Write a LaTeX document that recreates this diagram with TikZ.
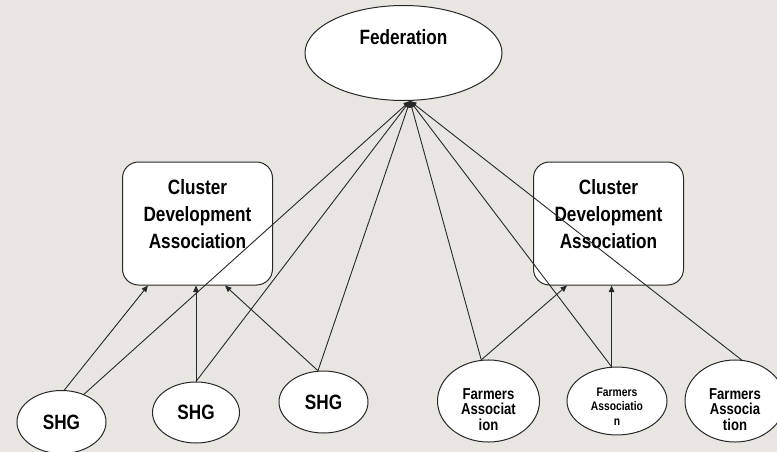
\documentclass[tikz,border=0pt]{standalone}
\usepackage{fontspec}
\newfontfamily\diagfont[FakeStretch=0.83]{Liberation Sans}
\usetikzlibrary{shapes.geometric, arrows.meta}
\definecolor{bgpanel}{RGB}{233,230,226}
\definecolor{edgegray}{RGB}{40,40,40}
\tikzset{
  fed_node/.style = {
    ellipse,
    draw=edgegray,
    fill=white,
    line width=1pt,
    minimum width=197pt,
    minimum height=95pt,
    inner sep=0pt,
    font=\diagfont\bfseries\fontsize{20.7}{24}\selectfont,
    text height=14pt,
    text depth=30pt
  },
  cluster/.style = {
    rectangle,
    rounded corners=16pt,
    draw=edgegray,
    fill=white,
    line width=1pt,
    minimum width=150pt,
    minimum height=123pt,
    inner sep=0pt,
    align=center,
    font=\diagfont\bfseries\fontsize{20.7}{27}\selectfont,
    text height=49pt,
    text depth=0pt
  },
  shg/.style = {
    ellipse,
    draw=edgegray,
    fill=white,
    line width=1pt,
    minimum width=89pt,
    minimum height=63pt,
    inner sep=0pt,
    font=\diagfont\bfseries\fontsize{20.7}{24}\selectfont
  },
  farmers/.style = {
    shg,
    minimum width=102pt,
    minimum height=62pt,
    align=center,
    font=\diagfont\bfseries\fontsize{15.8}{15.5}\selectfont,
    text height=58pt,
    text depth=0pt
  },
  farmers_small/.style = {
    farmers,
    font=\diagfont\bfseries\fontsize{12.4}{14.5}\selectfont,
    text height=48pt
  },
  arrow/.style = {
    -{Triangle[length=6.5pt,width=5.5pt]},
    line width=0.9pt,
    draw=edgegray
  }
}

\begin{document}
\begin{tikzpicture}[x=1pt, y=-1pt]

\fill[bgpanel] (0,0) rectangle (777,452);
\useasboundingbox (0,0) rectangle (777,452);

% ===== Topo =====
\node (fed) [fed_node] at (403.5,53) {Federation};
\coordinate (hub) at ([xshift=6.5pt]fed.south);

% ===== Nivel do meio =====
\node (cda1) [cluster] at (197.5,223.5) {Cluster\\Development\\Association};
\node (cda2) [cluster] at (608.5,223.5) {Cluster\\Development\\Association};

% ===== Base =====
\node (shg1) [shg] at (61.5,422) {SHG};
\node (shg2) [shg, minimum width=87pt, minimum height=61pt] at (196,412.5) {SHG};
\node (shg3) [shg, minimum height=62pt] at (323.5,402) {SHG};
\node (fa1) [farmers] at (488.5,401) {Farmers\\Associat\\ion};
\node (fa2) [farmers_small, minimum width=100pt] at (617,401) {Farmers\\Associatio\\n};
\node (fa3) [farmers, minimum width=100pt] at (735,401) {Farmers\\Associa\\tion};

% ===== Setas para os clusters =====
\draw [arrow] (shg1.85) -- ([xshift=-49.5pt]cda1.south);
\draw [arrow] (shg2.north) -- (shg2.north |- cda1.south);
\draw [arrow] (shg3.100) -- ([xshift=27.5pt]cda1.south);
\draw [arrow] (fa1.100) -- ([xshift=-41.5pt]cda2.south);
\draw [arrow] (fa2.99) -- (fa2.99 |- cda2.south);

% ===== Setas para a federacao =====
\draw [arrow] (shg1.51) -- (hub);
\draw [arrow] (shg2.north) -- (hub);
\draw [arrow] (shg3.100) -- (hub);
\draw [arrow] (fa1.100) -- (hub);
\draw [arrow] (fa2.99) -- (hub);
\draw [arrow] (fa3.81) -- (hub);

\end{tikzpicture}
\end{document}
